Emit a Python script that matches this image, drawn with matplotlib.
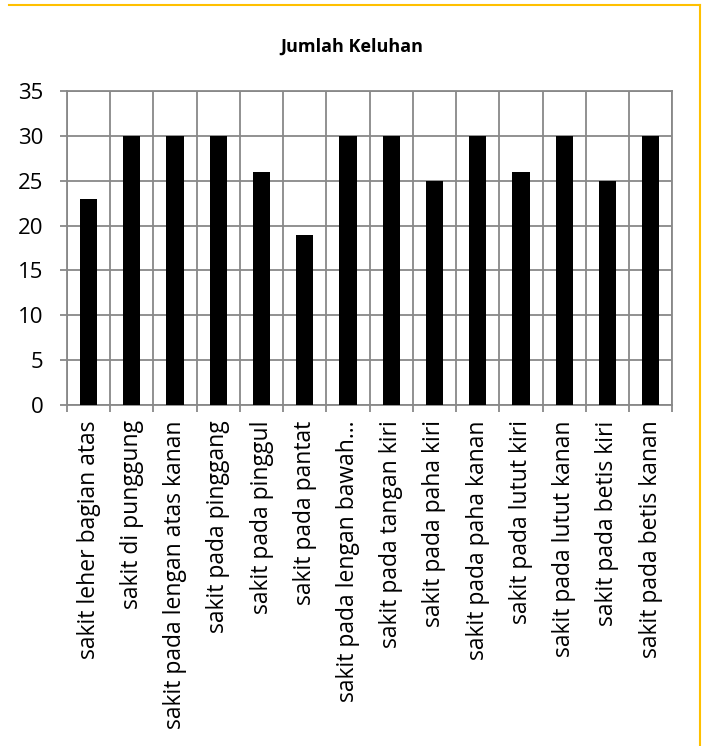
import numpy as np
import matplotlib.pyplot as plt
from matplotlib.lines import Line2D
from matplotlib.ticker import FixedLocator

categories = [
    "sakit leher bagian atas",
    "sakit di punggung",
    "sakit pada lengan atas kanan",
    "sakit pada pinggang",
    "sakit pada pinggul",
    "sakit pada pantat",
    "sakit pada lengan bawah…",
    "sakit pada tangan kiri",
    "sakit pada paha kiri",
    "sakit pada paha kanan",
    "sakit pada lutut kiri",
    "sakit pada lutut kanan",
    "sakit pada betis kiri",
    "sakit pada betis kanan",
]
counts = [23, 30, 30, 30, 26, 19, 30, 30, 25, 30, 26, 30, 25, 30]
y_ticks = [0, 5, 10, 15, 20, 25, 30, 35]

plt.rcParams["font.family"] = ["Open Sans", "DejaVu Sans"]

fig = plt.figure(figsize=(7.03, 7.46), dpi=100)
ax = fig.add_axes([0.0953, 0.457, 0.861, 0.421])

x = np.arange(len(categories))
ax.bar(x, counts, width=0.4, color="black", zorder=3)

ax.set_xlim(-0.5, len(categories) - 0.5)
ax.set_ylim(0, 35)
ax.set_yticks(y_ticks)
ax.set_yticklabels([str(v) for v in y_ticks], fontsize=16)

ax.set_xticks(x)
ax.set_xticklabels(categories, rotation=90, fontsize=16.5, va="top", ha="center")
ax.tick_params(axis="x", which="major", length=0, pad=11)
ax.xaxis.set_minor_locator(FixedLocator(np.arange(-0.5, len(categories), 1.0)))
ax.tick_params(axis="x", which="minor", length=5, width=1.3, color="#888888")
ax.tick_params(axis="y", length=5, width=1.3, color="#888888", pad=12)

ax.grid(axis="y", which="major", color="#888888", linewidth=1.3, zorder=0)
ax.grid(axis="x", which="minor", color="#888888", linewidth=1.3, zorder=0)
for s in ax.spines.values():
    s.set_color("#888888")
    s.set_linewidth(1.3)

fig.text(0.5, 0.938, "Jumlah Keluhan", ha="center", va="center",
         fontsize=13, fontweight="bold")

# gold frame (top and right edges only visible)
gold = "#FFC000"
fig.add_artist(Line2D([9 / 703, 700 / 703], [1 - 4.5 / 746, 1 - 4.5 / 746],
                      transform=fig.transFigure, color=gold, linewidth=1.5))
fig.add_artist(Line2D([700 / 703, 700 / 703], [1 - 4.5 / 746, 0],
                      transform=fig.transFigure, color=gold, linewidth=1.5))

fig.savefig("out.png", dpi=100)
